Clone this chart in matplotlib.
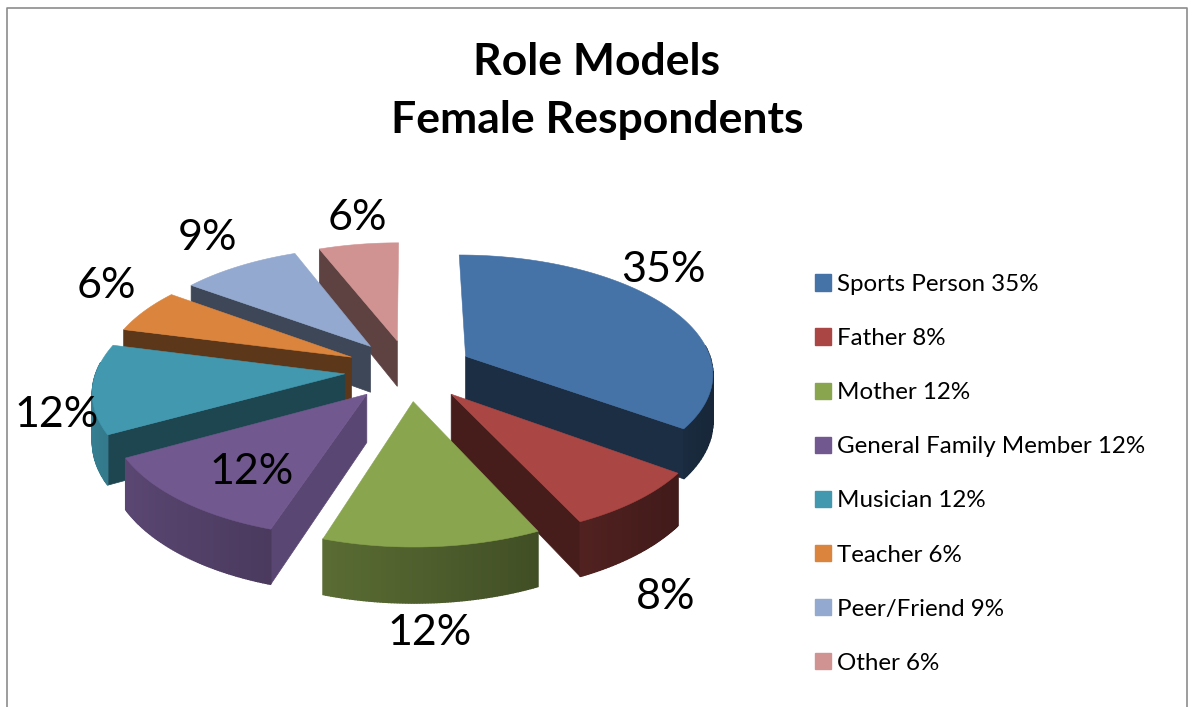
import numpy as np
import matplotlib
matplotlib.use("Agg")
import matplotlib.pyplot as plt
from matplotlib.patches import Polygon, Patch
from matplotlib.lines import Line2D

categories = ["Sports Person", "Father", "Mother", "General Family Member",
              "Musician", "Teacher", "Peer/Friend", "Other"]
values = [35, 8, 12, 12, 12, 6, 9, 6]
colors = ["#4572A7", "#AA4643", "#89A54E", "#71588F",
          "#4198AF", "#DB843D", "#93A9CF", "#D19392"]
wall_shade = [0.40, 0.42, 0.42, 0.80, 0.46, 0.42, 0.42, 0.45]
title = "Role Models\nFemale Respondents"

label_xy = [(663, 270), (666, 597), (430, 633), (252, 472),
            (57, 415), (106, 286), (208, 238), (357, 218)]

CX, CY, RX, RY, K, EXPL, DEPTH = 409, 370, 248, 117.7, 0.129, 0.26, 47


def project(u, v, drop=0.0):
    s = 1 / (1 - K * v)
    return CX + RX * u * s, CY + RY * v * s + drop * s


def darken(col, f):
    c = np.array(matplotlib.colors.to_rgb(col))
    return tuple(c * f)


fig = plt.figure(figsize=(11.95, 7.07), dpi=100)
ax = fig.add_axes([0, 0, 1, 1])
ax.set_xlim(0, 1195)
ax.set_ylim(707, 0)
ax.axis("off")

total = sum(values)
fracs = np.array(values) / total
starts = 2 * np.pi * np.concatenate([[0], np.cumsum(fracs)[:-1]])
ends = starts + 2 * np.pi * fracs
mids = (starts + ends) / 2

order = list(np.argsort([-np.cos(m) for m in mids]))  # back slices first
for i in order:
    z = 1 + 0.01 * order.index(i)
    t = np.linspace(starts[i], ends[i], 80)
    au, av = EXPL * np.sin(mids[i]), -EXPL * np.cos(mids[i])
    ru, rv = au + np.sin(t), av - np.cos(t)
    col = colors[i]
    a0 = project(au, av)
    a1 = project(au, av, DEPTH)
    # radial walls that face the viewer
    for k, facing in ((0, -np.sin(t[0])), (-1, np.sin(t[-1]))):
        if facing > 1e-6:
            p0 = project(ru[k], rv[k])
            p1 = project(ru[k], rv[k], DEPTH)
            c = darken(col, wall_shade[i])
            ax.add_patch(Polygon([a0, p0, p1, a1], closed=True, fc=c, ec=c, lw=0.5, zorder=z))
    # outer wall, only the part that faces the viewer, shaded along the arc
    for j in range(len(t) - 1):
        tm = (t[j] + t[j + 1]) / 2
        if -np.cos(tm) < -0.1:
            continue
        shade = float(np.clip(0.58 - 0.25 * np.sin(tm), 0.33, 0.85))
        q = [project(ru[j], rv[j]), project(ru[j + 1], rv[j + 1]),
             project(ru[j + 1], rv[j + 1], DEPTH), project(ru[j], rv[j], DEPTH)]
        c = darken(col, shade)
        ax.add_patch(Polygon(q, closed=True, fc=c, ec=c, lw=1.0, zorder=z + 0.001))
    # top face
    xs, ys = project(ru, rv)
    top = np.vstack([[a0], np.column_stack([xs, ys])])
    ax.add_patch(Polygon(top, closed=True, fc=col, ec=col, lw=0.4, zorder=z + 0.002))

FONT = "Lato"
for v, (x, y) in zip(values, label_xy):
    ax.text(x, y, f"{v}%", fontsize=31, family=FONT, ha="center", va="center", color="black", zorder=5)

ax.text(597, 91, title, fontsize=32, fontweight="bold", family=FONT, ha="center",
        va="center", linespacing=1.526, color="black", zorder=5)

handles = [Patch(fc=c, ec=c) for c in colors]
labels = [f"{c} {v}%" for c, v in zip(categories, values)]
leg = ax.legend(handles, labels, loc="upper left", bbox_to_anchor=(815 / 1195, 1 - 274 / 707),
                bbox_transform=fig.transFigure, frameon=False, prop={"family": FONT, "size": 17.4},
                handlelength=0.66, handleheight=0.66, handletextpad=0.25,
                labelspacing=1.37, borderpad=0, borderaxespad=0)

# chart frame
frame = "#8c8c8c"
ax.add_line(Line2D([7, 7, 1187, 1187], [707, 8, 8, 707], color=frame, lw=1.2, zorder=6))

fig.savefig("out.png", dpi=100, facecolor="white")
